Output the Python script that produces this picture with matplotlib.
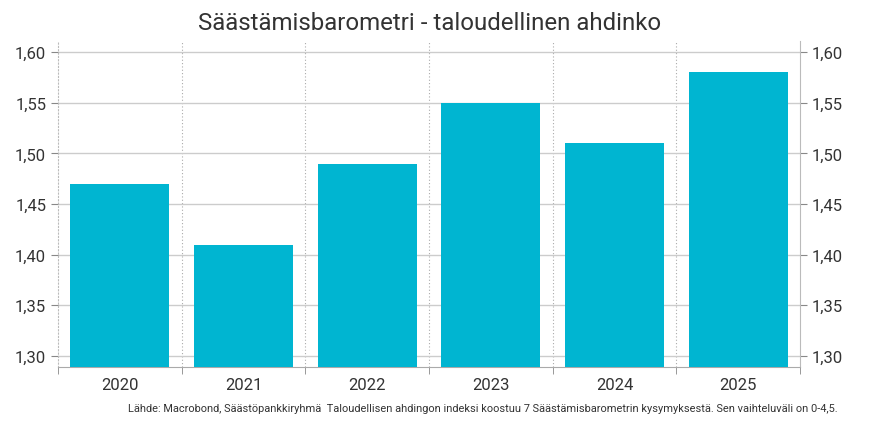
import matplotlib.pyplot as plt
from matplotlib.ticker import FuncFormatter, FixedLocator

years = ['2020', '2021', '2022', '2023', '2024', '2025']
values = [1.47, 1.41, 1.49, 1.55, 1.51, 1.58]
yticks = [1.30, 1.35, 1.40, 1.45, 1.50, 1.55, 1.60]

title = 'Säästämisbarometri - taloudellinen ahdinko'
source = ('Lähde: Macrobond, Säästöpankkiryhmä  Taloudellisen ahdingon indeksi koostuu '
          '7 Säästämisbarometrin kysymyksestä. Sen vaihteluväli on 0-4,5.')

plt.rcParams['font.family'] = ['Roboto', 'DejaVu Sans']
txt = '#333333'
grid = '#cccccc'

fig = plt.figure(figsize=(8.83, 4.27), dpi=100)
ax = fig.add_axes([0.0657, 0.138, 0.8403, 0.7636])

x = list(range(len(years)))
ax.bar(x, values, width=0.8, color='#00b5d1', zorder=3)

ax.set_xlim(-0.5, len(years) - 0.5)
ax.set_ylim(1.289, 1.611)

fmt = FuncFormatter(lambda v, p: f'{v:.2f}'.replace('.', ','))
ax.yaxis.set_major_locator(FixedLocator(yticks))
ax.yaxis.set_major_formatter(fmt)
ax.grid(axis='y', color=grid, linewidth=1, zorder=0)

# vertical dotted separators between years
for b in range(1, len(years)):
    ax.axvline(b - 0.5, color='#aaaaaa', linestyle=(0, (1, 2)), linewidth=0.8, zorder=1)

ax.set_xticks(x)
ax.set_xticklabels(years)
ax.set_xticks([i - 0.5 for i in range(len(years) + 1)], minor=True)
ax.tick_params(axis='x', which='major', length=0, pad=7, labelsize=12, labelcolor=txt)
ax.tick_params(axis='x', which='minor', length=5, color='#888888', direction='out')
ax.tick_params(axis='y', length=5, color='#888888', labelsize=12, labelcolor=txt,
               left=True, right=True, labelleft=True, labelright=True)

ax.spines['top'].set_visible(False)
ax.spines['left'].set_color('#bbbbbb')
ax.spines['left'].set_linestyle((0, (1, 2)))
ax.spines['right'].set_color('#bbbbbb')
ax.spines['bottom'].set_color('#aaaaaa')

fig.text(0.487, 0.945, title, ha='center', va='center', fontsize=17.3, color=txt)
fig.text(0.949, 0.043, source, ha='right', va='center', fontsize=7.95, color=txt)

fig.savefig('out.png', dpi=100)
